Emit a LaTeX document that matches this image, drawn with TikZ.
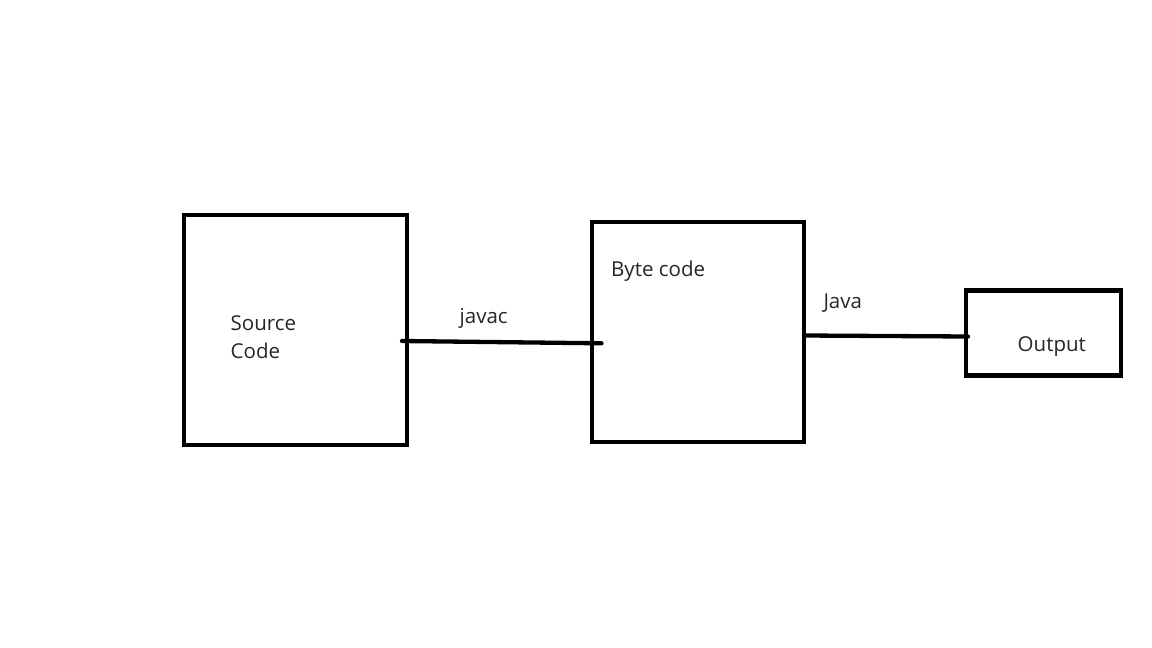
\documentclass[tikz,border=0pt]{standalone}
\usepackage{fontspec}
\setmainfont{Open Sans}
\begin{document}
\begin{tikzpicture}[x=1pt,y=-1pt,
  box/.style={draw=black, line width=4.7pt, minimum width=#1, inner sep=0pt, outer sep=0pt},
  lbl/.style={anchor=base west, inner sep=0pt, text=black!85, font=\fontsize{20.5}{29}\selectfont},
  conn/.style={line width=4.3pt, line cap=round}]
\useasboundingbox (0,0) rectangle (1152,648);
\fill[white] (0,0) rectangle (1152,648);
% boxes (centerline geometry)
\node[box=223pt, minimum height=230pt] (src) at (295.5,330) {};
\node[box=212pt, minimum height=220pt] (byte) at (698,332) {};
\node[box=155pt, minimum height=85pt] (out) at (1043.5,332.75) {};
% labels
\node[lbl] (tsrc) at (230.5,330) {Source};
\node[lbl] (tcode) at (230.5,358.7) {Code};
\node[lbl] (tbyte) at (611,276.7) {Byte code};
\node[lbl] (tout) at (1017.5,351.7) {Output};
\node[lbl] (tjavac) at (459.5,323.3) {javac};
\node[lbl] (tjava) at (823.3,308.3) {Java};
% connector ends
\coordinate (a1) at (402,341);
\coordinate (a2) at (601.5,343.3);
\coordinate (b1) at (804,335.5);
\coordinate (b2) at (968,336.5);
\draw[conn] (a1) -- (a2);
\draw[conn] (b1) -- (b2);
\end{tikzpicture}
\end{document}
